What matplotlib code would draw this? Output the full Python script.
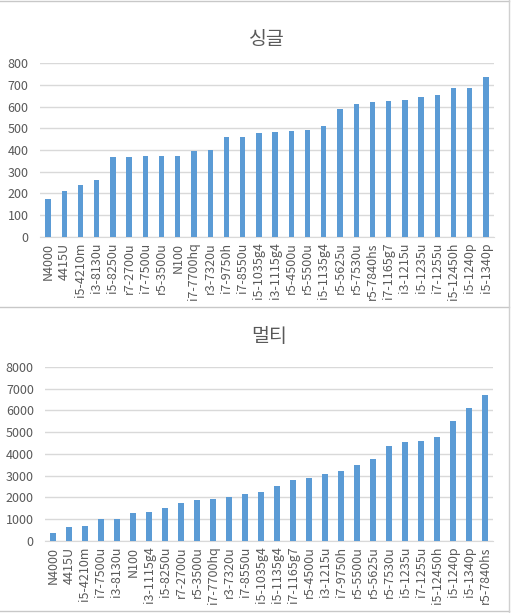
import numpy as np
import matplotlib
matplotlib.use('Agg')
import matplotlib.pyplot as plt
from matplotlib.lines import Line2D

plt.rcParams['font.family'] = ['Noto Sans CJK KR', 'DejaVu Sans']

# single-core scores
single_names = ['N4000', '4415U', 'i5-4210m', 'i3-8130u', 'i5-8250u', 'r7-2700u',
                'i7-7500u', 'r5-3500u', 'N100', 'i7-7700hq', 'r3-7320u', 'i7-9750h',
                'i7-8550u', 'i5-1035g4', 'i3-1115g4', 'r5-4500u', 'r5-5500u',
                'i5-1135g4', 'r5-5625u', 'r5-7530u', 'r5-7840hs', 'i7-1165g7',
                'i3-1215u', 'i5-1235u', 'i7-1255u', 'i5-12450h', 'i5-1240p', 'i5-1340p']
single_vals = [175, 212, 240, 263, 369, 369, 373, 373, 373, 396, 402, 461, 461, 479,
               484, 488, 493, 511, 590, 613, 622, 627, 631, 645, 654, 687, 687, 737]

# multi-core scores
multi_names = ['N4000', '4415U', 'i5-4210m', 'i7-7500u', 'i3-8130u', 'N100', 'i3-1115g4',
               'i5-8250u', 'r7-2700u', 'r5-3500u', 'i7-7700hq', 'r3-7320u', 'i7-8550u',
               'i5-1035g4', 'i5-1135g4', 'i7-1165g7', 'r5-4500u', 'i3-1215u',
               'i7-9750h', 'r5-5500u', 'r5-5625u', 'r5-7530u', 'i5-1235u', 'i7-1255u',
               'i5-12450h', 'i5-1240p', 'i5-1340p', 'r5-7840hs']
multi_vals = [368, 644, 690, 1011, 1011, 1287, 1333, 1517, 1747, 1885, 1931, 2023, 2161,
              2253, 2529, 2805, 2897, 3080, 3218, 3494, 3770, 4368, 4552, 4598, 4782,
              5517, 6115, 6713]

bar_color = '#5b9bd5'
grid_color = '#d9d9d9'
text_color = '#595959'

fig = plt.figure(figsize=(5.11, 6.13), dpi=100)


def draw(ax, names, vals, ymax, step, title, pad):
    x = np.arange(len(names))
    ax.bar(x, vals, width=0.33, color=bar_color, zorder=3)
    ax.set_xlim(-0.5, len(names) - 0.5)
    ax.set_ylim(0, ymax)
    ax.set_yticks(np.arange(0, ymax + 1, step))
    ax.yaxis.grid(True, color=grid_color, linewidth=1, zorder=0)
    ax.set_xticks(x)
    ax.set_xticklabels(names, rotation=90, fontsize=9, color=text_color)
    ax.tick_params(axis='y', labelsize=9, labelcolor=text_color, length=0, pad=8)
    ax.tick_params(axis='x', length=0, pad=4)
    for s in ['top', 'right', 'left']:
        ax.spines[s].set_visible(False)
    ax.spines['bottom'].set_color(grid_color)
    ax.set_title(title, fontsize=14, color=text_color, pad=pad)


ax1 = fig.add_axes([0.078, 0.6134, 0.889, 0.2838])
draw(ax1, single_names, single_vals, 800, 100, '싱글', 13)

ax2 = fig.add_axes([0.088, 0.1175, 0.877, 0.2838])
draw(ax2, multi_names, multi_vals, 8000, 1000, '멀티', 18)

# sheet borders around the two charts
for y in [0.999, 1 - 307 / 613, 1 - 611 / 613]:
    fig.add_artist(Line2D([0, 509 / 511], [y, y], color='#c8c8c8', linewidth=1))
fig.add_artist(Line2D([509 / 511, 509 / 511], [0, 1], color='#d0d0d0', linewidth=1))

fig.savefig('out.png', dpi=100)
